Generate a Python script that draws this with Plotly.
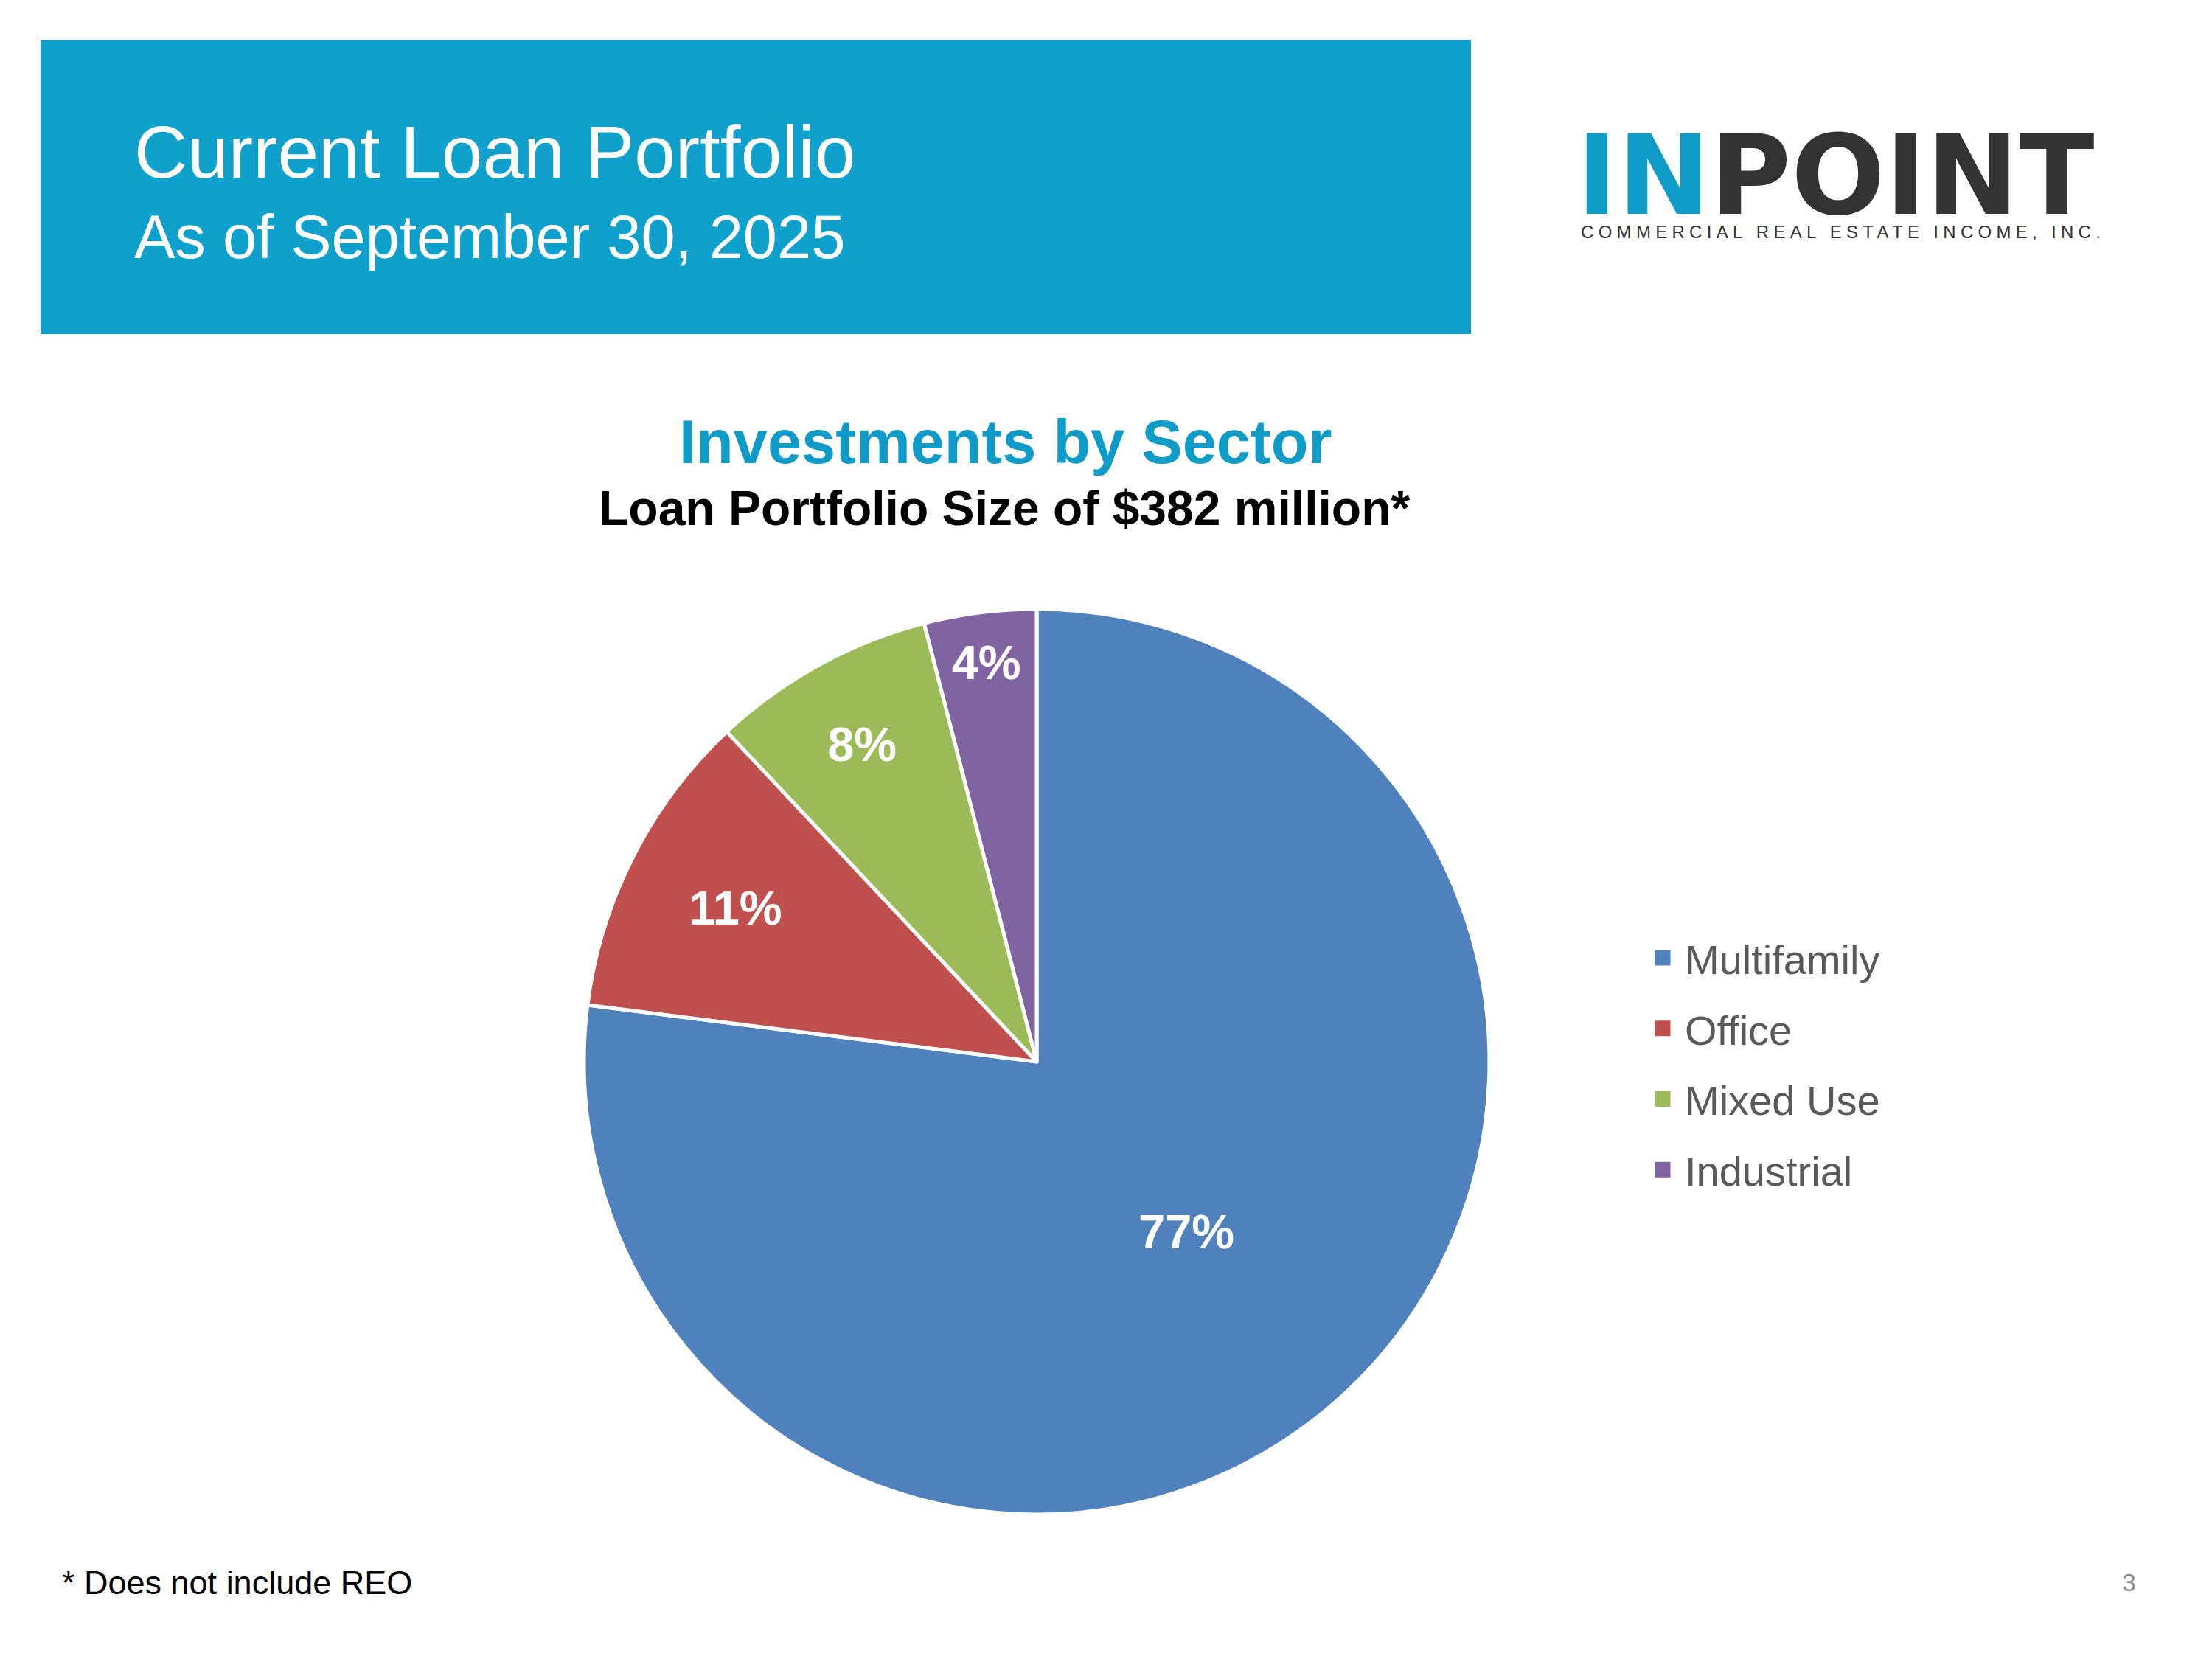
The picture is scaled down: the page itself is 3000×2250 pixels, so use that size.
import plotly.graph_objects as go

# ---- data ----
sectors = ["Multifamily", "Office", "Mixed Use", "Industrial"]
shares = [77, 11, 8, 4]
colors = ["#4F81BD", "#C0504D", "#9BBB59", "#8064A2"]

header_title = "Current Loan Portfolio"
header_date = "As of September 30, 2025"
chart_title = "Investments by Sector"
chart_subtitle = "Loan Portfolio Size of $382 million*"
footnote = "* Does not include REO"
page_number = "3"
logo_a, logo_b = "IN", "POINT"
logo_tagline = "COMMERCIAL REAL ESTATE INCOME, INC."

W, H = 3000, 2250
FONT = "Liberation Sans, Arial, sans-serif"

fig = go.Figure()

cx, cy, r = 1406, 1440, 614
fig.add_trace(go.Pie(
    labels=sectors,
    values=shares,
    sort=False,
    direction="clockwise",
    rotation=0,
    marker=dict(colors=colors, line=dict(color="white", width=5)),
    texttemplate="%{percent:.0%}",
    textposition="inside",
    insidetextorientation="horizontal",
    textfont=dict(family=FONT, size=65, color="white", weight="bold"),
    hoverinfo="label+percent",
    showlegend=False,
    domain=dict(x=[(cx - r) / W, (cx + r) / W], y=[(H - cy - r) / H, (H - cy + r) / H]),
))

# legend entries (square swatches) for the same sectors/colours
for name, col in zip(sectors, colors):
    fig.add_trace(go.Scatter(
        x=[None], y=[None], mode="markers", name=name, legendgroup=name,
        marker=dict(symbol="square", size=16, color=col, line=dict(color=col, width=5)),
        hoverinfo="skip", showlegend=True,
    ))

# header band
fig.add_shape(type="rect", xref="paper", yref="paper",
              x0=55 / W, x1=1995 / W, y0=1 - 453 / H, y1=1 - 54 / H,
              fillcolor="#0FA0CB", line=dict(width=0), layer="below")

def ann(text, x, y, size, color, xanchor="left", bold=False, family=FONT):
    fig.add_annotation(text=text, x=x / W, y=1 - y / H, xref="paper", yref="paper",
                       xanchor=xanchor, yanchor="middle", showarrow=False,
                       font=dict(family=family, size=size, color=color,
                                 weight="bold" if bold else "normal"))

ann(header_title, 180, 206, 100, "white")
ann(header_date, 180, 322, 83, "white")

# logo
fig.add_annotation(
    text=f"<span style='color:#0E9BC8'>{logo_a}</span><span style='color:#333333'>{logo_b}</span>",
    x=2136 / W, y=1 - 238 / H, xref="paper", yref="paper", xanchor="left", yanchor="middle",
    showarrow=False, font=dict(family="DejaVu Sans, sans-serif", size=150, weight="bold"))
fig.add_annotation(
    text=f"<span style='letter-spacing:6.3px'>{logo_tagline}</span>",
    x=2142 / W, y=1 - 314 / H, xref="paper", yref="paper", xanchor="left", yanchor="middle",
    showarrow=False, font=dict(family=FONT, size=24, color="#333333"))

ann(chart_title, 1364, 600, 83, "#0E9BC8", xanchor="center", bold=True)
ann(chart_subtitle, 1362, 689, 66, "black", xanchor="center", bold=True)
ann(footnote, 82, 2146, 45, "black")
ann(page_number, 2887, 2146, 34, "#8C8C8C", xanchor="center")

fig.update_layout(
    width=W, height=H,
    margin=dict(l=0, r=0, t=0, b=0),
    paper_bgcolor="white", plot_bgcolor="rgba(0,0,0,0)",
    xaxis=dict(visible=False), yaxis=dict(visible=False),
    showlegend=True,
    legend=dict(x=2225 / W, y=1 - 1443 / H, xanchor="left", yanchor="middle",
                font=dict(family=FONT, size=56, color="#595959"),
                tracegroupgap=20, itemwidth=50, bgcolor="rgba(0,0,0,0)"),
)

fig.write_html("out.html", config={"displayModeBar": False},
               post_script="document.body.style.margin='0';")
